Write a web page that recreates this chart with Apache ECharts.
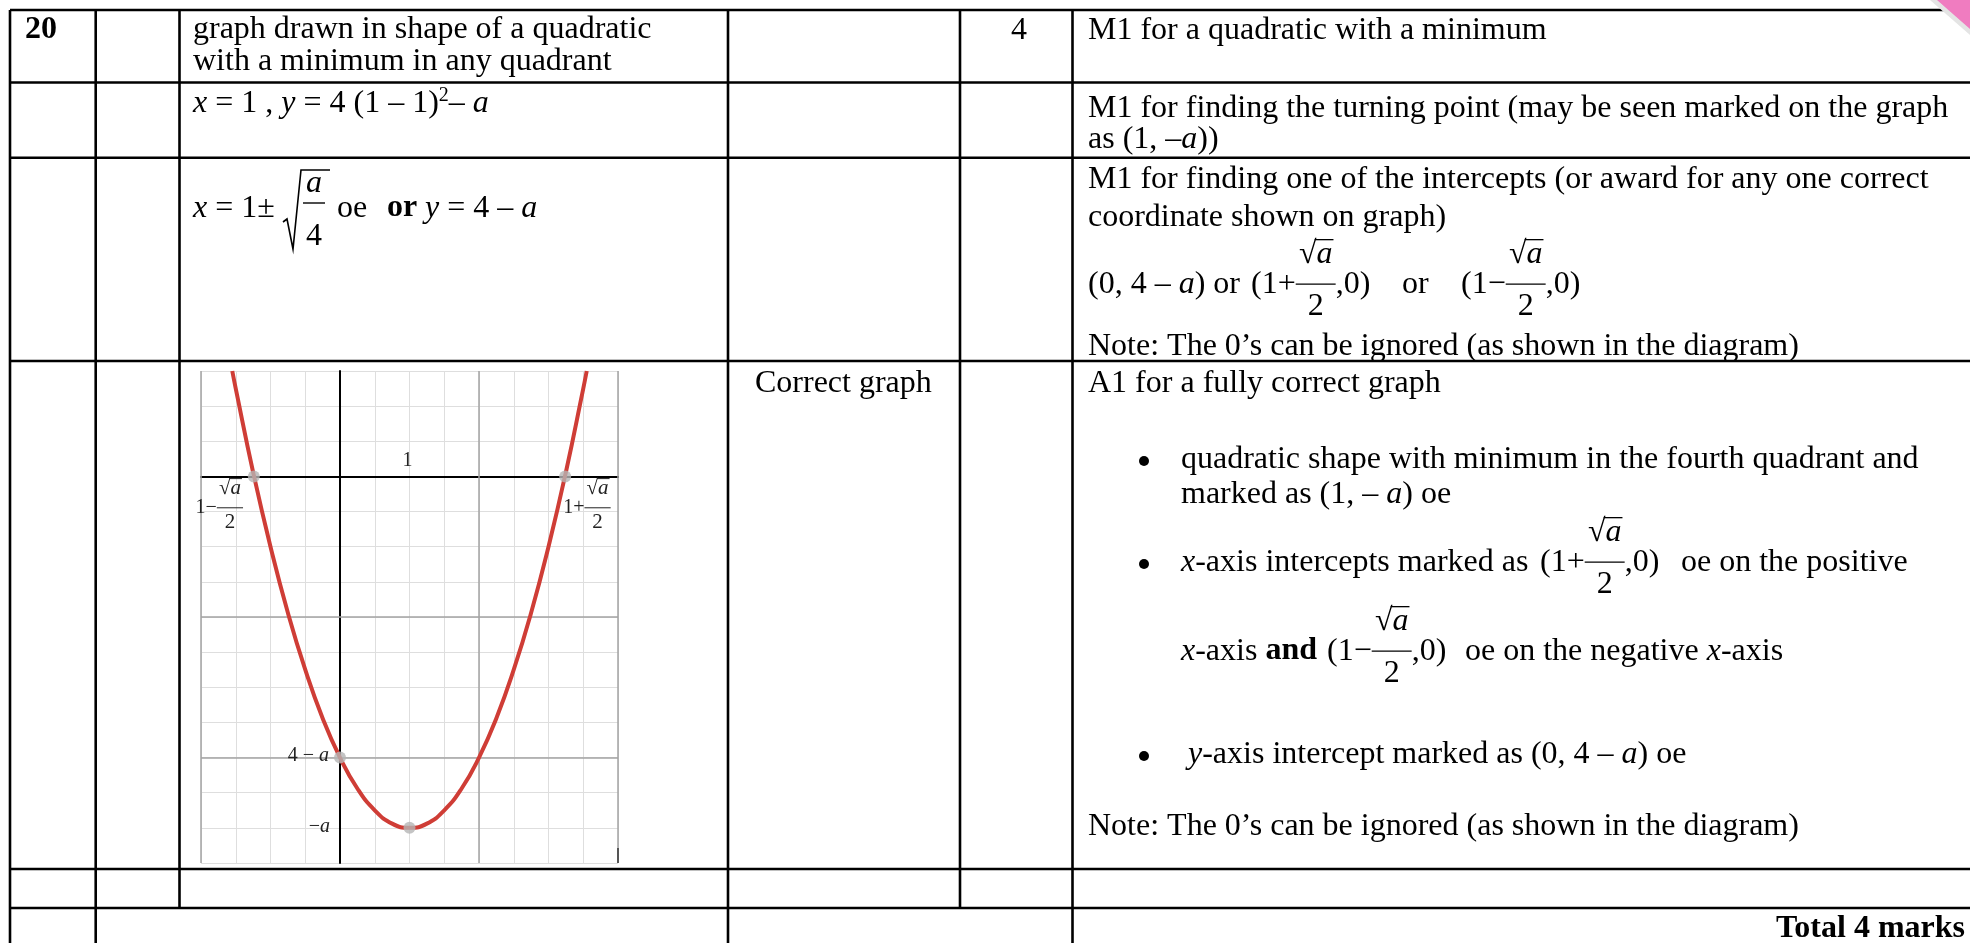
<!DOCTYPE html>
<html>
<head>
<meta charset="utf-8">
<title>Q20 mark scheme</title>
<script src="https://cdn.jsdelivr.net/npm/echarts@6/dist/echarts.min.js"></script>
<style>
html, body { margin: 0; padding: 0; background: #fff; }
#chart { width: 1970px; height: 943px; }
</style>
</head>
<body>
<div id="chart"></div>
<script>
// points (grid units: x step 0.5, y step 1)
const curveX = [-1.55, -1.5, -1.25, -1, -0.75, -0.5, -0.25, 0, 0.25, 0.5, 0.75, 1,
  1.25, 1.5, 1.75, 2, 2.25, 2.5, 2.75, 3, 3.25, 3.5, 3.55];
const curveY = [3.0, 2.5, 0.12, -2, -3.88, -5.5, -6.88, -8, -8.88, -9.5, -9.88, -10,
  -9.88, -9.5, -8.88, -8, -6.88, -5.5, -3.88, -2, 0.12, 2.5, 3.0];
// grey dots: left root, y-intercept, turning point, right root
const dotX = [-1.24, 0, 1, 3.24];
const dotY = [0, -8, -10, 0];
// darker grid lines
const majorX = [-2, 2, 4];
const majorY = [-4, -8];
const xRange = [-2, 4];
const yRange = [-11, 3];

const FS = 32;
const FAM = '"Liberation Serif", "Times New Roman", serif';

const chart = echarts.init(document.getElementById('chart'));

const majorLines = majorX.map(v => ({ coords: [[v, yRange[0]], [v, yRange[1]]] }))
  .concat(majorY.map(v => ({ coords: [[xRange[0], v], [xRange[1], v]] })));

chart.setOption({
  animation: false,
  grid: { left: 201, top: 371, width: 417, height: 492, containLabel: false },
  xAxis: {
    type: 'value', min: xRange[0], max: xRange[1], interval: 0.5,
    axisLine: { onZero: true, lineStyle: { color: '#000', width: 2 } },
    axisTick: { show: false }, axisLabel: { show: false },
    splitLine: { lineStyle: { color: '#dedede', width: 1 } }
  },
  yAxis: {
    type: 'value', min: yRange[0], max: yRange[1], interval: 1,
    axisLine: { onZero: true, lineStyle: { color: '#000', width: 2 } },
    axisTick: { show: false }, axisLabel: { show: false },
    splitLine: { lineStyle: { color: '#dedede', width: 1 } }
  },
  series: [
    {
      type: 'lines', coordinateSystem: 'cartesian2d', silent: true, z: 1,
      lineStyle: { color: '#a3a3a3', width: 1.5, opacity: 1 },
      data: majorLines
    },
    {
      type: 'line', smooth: true, showSymbol: false, silent: true, z: 3,
      lineStyle: { color: '#cf3d36', width: 4 },
      data: curveX.map((x, i) => [x, curveY[i]])
    },
    {
      type: 'scatter', silent: true, z: 4, symbolSize: 12,
      itemStyle: { color: '#b5b5b5' },
      data: dotX.map((x, i) => [x, dotY[i]])
    }
  ]
});

// ---- text / table drawing helpers ----
const ctx = document.createElement('canvas').getContext('2d');
function font(st, fs) {
  return (st === 'i' ? 'italic ' : st === 'b' ? 'bold ' : '') + (fs || FS) + 'px ' + FAM;
}
function tw(t, f) { ctx.font = f; return ctx.measureText(t).width; }
const G = [];
function txt(x, base, t, st, fs, align, fill) {
  fs = fs || FS;
  const f = font(st, fs);
  G.push({ type: 'text', z: 100, silent: true, style: {
    text: t, x: x, y: base - 0.3375 * fs, font: f, fill: fill || '#000',
    textAlign: align || 'left', textVerticalAlign: 'middle',
    align: align || 'left', verticalAlign: 'middle' } });
  return tw(t, f);
}
function seg(x1, y1, x2, y2, w, c) {
  G.push({ type: 'line', z: 100, silent: true, shape: { x1, y1, x2, y2 },
    style: { stroke: c || '#000', lineWidth: w } });
}
function sqrtA(x, base, fs, fill) {
  const w1 = txt(x, base, '√', '', fs, 'left', fill);
  const w2 = txt(x + w1, base, 'a', 'i', fs, 'left', fill);
  seg(x + w1 * 0.9, base - 0.80 * fs, x + w1 + w2 + 1, base - 0.80 * fs, Math.max(1, fs / 24), fill);
  return w1 + w2;
}
// fraction sqrt(a) over 2, bar on the maths axis of the line
function frac(x, base, fs, fill) {
  fs = fs || FS;
  const wn = tw('√', font('', fs)) + tw('a', font('i', fs));
  const pad = 0.1 * fs;
  const w = wn + 2 * pad;
  sqrtA(x + pad, base - 0.93 * fs, fs, fill);
  txt(x + w / 2, base + 0.69 * fs, '2', '', fs, 'center', fill);
  seg(x, base - 0.34 * fs, x + w, base - 0.34 * fs, Math.max(1, fs / 24), fill);
  return w;
}
function run(x, base, segs, fs, fill) {
  if (typeof segs === 'string') segs = [{ t: segs }];
  for (const s of segs) {
    if (s.at != null) x = s.at;
    if (s.frac) x += frac(x, base, s.fs || fs, fill);
    else x += txt(x, base + (s.dy || 0), s.t, s.st, s.fs || fs, 'left', fill);
  }
  return x;
}

// ---- table rules ----
const rows = [10, 82.5, 157.7, 361, 869, 908];
rows.forEach(y => seg(10, y, 1970, y, 2.6));
[10, 95.7, 179.5, 728, 960, 1072.5].forEach(x => seg(x, 10, x, 908, 2.6));
[10, 95.7, 728, 1072.5].forEach(x => seg(x, 908, x, 943, 2.6));

// ---- row 1 ----
run(25, 41, [{ t: '20', st: 'b' }]);
run(193, 40, 'graph drawn in shape of a quadratic');
run(193, 72, 'with a minimum in any quadrant');
txt(1019, 41, '4', '', FS, 'center');
run(1088, 41, 'M1 for a quadratic with a minimum');

// ---- row 2 ----
run(193, 114, [{ t: 'x', st: 'i' }, { t: ' = 1 , ' }, { t: 'y', st: 'i' }, { t: ' = 4 (1 – 1)' },
  { t: '2', fs: 20, dy: -12 }, { t: '– ' }, { t: 'a', st: 'i' }]);
run(1088, 119, 'M1 for finding the turning point (may be seen marked on the graph');
run(1088, 150, [{ t: 'as (1, –' }, { t: 'a', st: 'i' }, { t: '))' }]);

// ---- row 3 ----
run(193, 219, [{ t: 'x', st: 'i' }, { t: ' = 1±' }]);
G.push({ type: 'polyline', z: 100, silent: true,
  shape: { points: [[283, 222], [287, 219], [293, 249], [301, 170], [330, 170]] },
  style: { stroke: '#000', lineWidth: 1.6, fill: null } });
txt(314, 194, 'a', 'i', FS, 'center');
seg(303, 203, 325, 203, 1.4);
txt(314, 247, '4', '', FS, 'center');
run(337, 219, [{ t: 'oe' }, { t: 'or', st: 'b', at: 387 }, { t: 'y', st: 'i', at: 425 }, { t: ' = 4 – ' }, { t: 'a', st: 'i' }]);

run(1088, 190, 'M1 for finding one of the intercepts (or award for any one correct');
run(1088, 228, 'coordinate shown on graph)');
run(1088, 295, [{ t: '(0, 4 – ' }, { t: 'a', st: 'i' }, { t: ') or' },
  { t: '(1+', at: 1251 }, { frac: 1 }, { t: ',0)' },
  { t: 'or', at: 1402 }, { t: '(1−', at: 1461 }, { frac: 1 }, { t: ',0)' }]);
run(1088, 357, 'Note: The 0’s can be ignored (as shown in the diagram)');

// ---- row 4 ----
run(755, 394, 'Correct graph');
run(1088, 394, 'A1 for a fully correct graph');
[470, 573, 765].forEach(b => G.push({ type: 'circle', z: 100, silent: true,
  shape: { cx: 1144, cy: b - 9, r: 5 }, style: { fill: '#000' } }));
run(1181, 470, 'quadratic shape with minimum in the fourth quadrant and');
run(1181, 505, [{ t: 'marked as (1, – ' }, { t: 'a', st: 'i' }, { t: ') oe' }]);
run(1181, 573, [{ t: 'x', st: 'i' }, { t: '-axis intercepts marked as ' },
  { t: '(1+', at: 1540 }, { frac: 1 }, { t: ',0)' }, { t: 'oe on the positive', at: 1681 }]);
run(1181, 662, [{ t: 'x', st: 'i' }, { t: '-axis ' }, { t: 'and', st: 'b' },
  { t: '(1−', at: 1327 }, { frac: 1 }, { t: ',0)' },
  { t: 'oe on the negative ', at: 1465 }, { t: 'x', st: 'i' }, { t: '-axis' }]);
run(1188, 765, [{ t: 'y', st: 'i' }, { t: '-axis intercept marked as (0, 4 – ' }, { t: 'a', st: 'i' }, { t: ') oe' }]);
run(1088, 837, 'Note: The 0’s can be ignored (as shown in the diagram)');

// ---- last row ----
txt(1965, 940, 'Total 4 marks', 'b', FS, 'right');

// ---- labels on the sketch, anchored to the data points ----
const px = (x, y) => chart.convertToPixel({ gridIndex: 0 }, [x, y]);
const LF = 20, LC = '#222';
let p = px(1, 0);
txt(p[0] - 2, p[1] - 8.5, '1', '', LF, 'center', LC);
p = px(dotX[0], dotY[0]);
txt(p[0] - 37, p[1] + 38.5, '1−', '', LF, 'right', LC);
frac(p[0] - 37, p[1] + 38.5, LF + 1, LC);
p = px(dotX[3], dotY[3]);
run(p[0] - 2, p[1] + 38.5, [{ t: '1+' }, { frac: 1, fs: LF + 1 }], LF, LC);
p = px(dotX[1], dotY[1]);
{
  const wa = tw('a', font('i', LF)), wm = tw('4 − ', font('', LF));
  run(p[0] - 11 - wa - wm, p[1] + 5, [{ t: '4 − ' }, { t: 'a', st: 'i' }], LF, LC);
}
p = px(dotX[2] - 1, dotY[2]);
{
  const wa = tw('a', font('i', LF)), wm = tw('−', font('', LF));
  run(p[0] - 10 - wa - wm, p[1] + 6, [{ t: '−' }, { t: 'a', st: 'i' }], LF, LC);
}
p = px(xRange[1], yRange[0]);
seg(p[0], p[1] - 15, p[0], p[1], 2, '#555');

// page curl in the top-right corner
G.push({ type: 'polygon', z: 101, silent: true,
  shape: { points: [[1936, 0], [1970, 0], [1970, 30]] }, style: { fill: '#f07cc0' } });
G.push({ type: 'polygon', z: 101, silent: true,
  shape: { points: [[1930, 0], [1937, 0], [1970, 29], [1970, 35]] }, style: { fill: '#e4e4e4' } });

chart.setOption({ graphic: { elements: G } });
</script>
</body>
</html>
